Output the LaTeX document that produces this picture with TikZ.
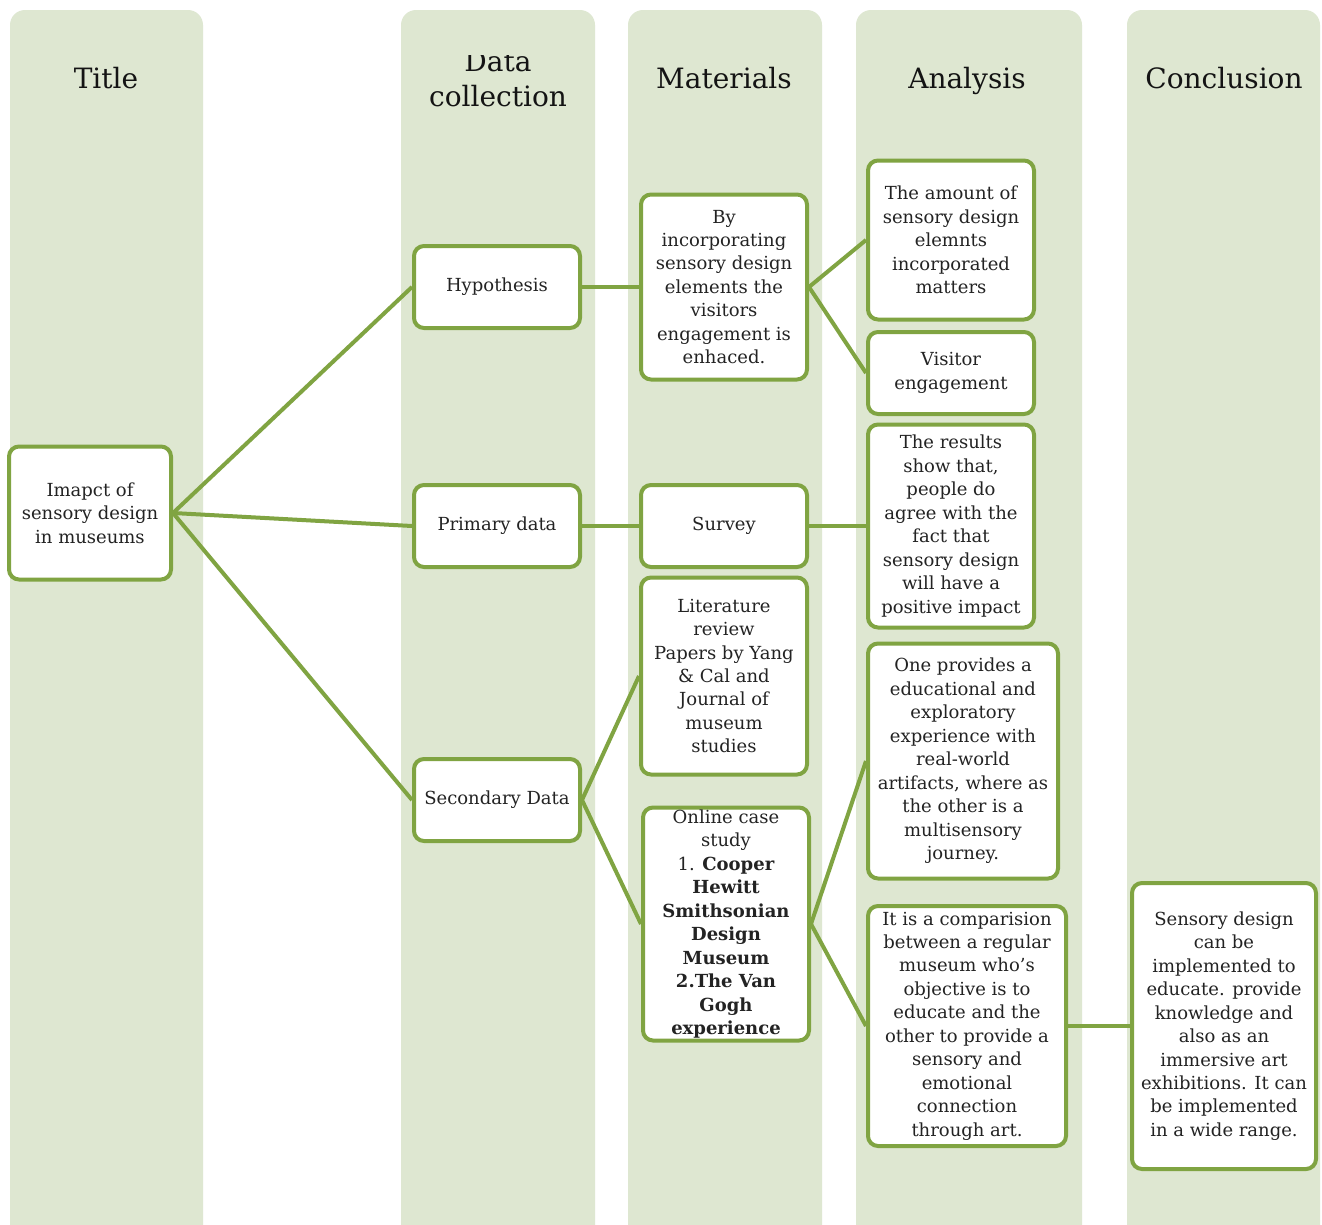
\documentclass[tikz,border=0pt]{standalone}
\usepackage{fontspec}
\setmainfont{DejaVu Serif}
\begin{document}
\begin{tikzpicture}[x=0.75pt,y=-0.75pt,
  lanecol/.style={fill=lane, draw=none, rounded corners=11.25pt},
  head/.style={font=\fontsize{21}{26}\selectfont, text=headtxt, align=center, anchor=base},
  box/.style={draw=grn, line width=3pt, fill=white, rounded corners=7.5pt, align=center, inner sep=0pt,
     font=\fontsize{13.5}{17.6}\selectfont, text=bodytxt},
  link/.style={draw=grn, line width=3pt}]
\definecolor{lane}{RGB}{222,231,209}
\definecolor{grn}{RGB}{128,164,66}
\definecolor{headtxt}{RGB}{20,20,20}
\definecolor{bodytxt}{RGB}{35,35,35}
\path[use as bounding box, clip] (0,0) rectangle (1322,1225);
\fill[white] (0,0) rectangle (1322,1225);
% lanes
\path[lanecol] (10,10) rectangle (203,1260);
\path[lanecol] (401,10) rectangle (595,1260);
\path[lanecol] (628,10) rectangle (822,1260);
\path[lanecol] (856,10) rectangle (1082,1260);
\path[lanecol] (1127,10) rectangle (1320,1260);
% headers
\node[head] (hTitle) at (106,88) {Title};
\begin{scope}
\clip (401,55) rectangle (595,140);
\node[head] (hData) at (498,106) {Data\\collection};
\end{scope}
\node[head] (hMat) at (724,88) {Materials};
\node[head] (hAna) at (967,88) {Analysis};
\node[head] (hCon) at (1224,88) {Conclusion};
% boxes
\node[box, minimum width=121.5pt, minimum height=99.75pt] (title) at (90,513) {Imapct of\\sensory design\\in museums};
\node[box, minimum width=124.5pt, minimum height=61.5pt] (hyp) at (497,287) {Hypothesis};
\node[box, minimum width=124.5pt, minimum height=61.5pt] (prim) at (497,526) {Primary data};
\node[box, minimum width=124.5pt, minimum height=61.5pt] (sec) at (497,800) {Secondary Data};
\node[box, minimum width=124.5pt, minimum height=138.75pt] (byinc) at (724,287) {By\\incorporating\\sensory design\\elements the\\visitors\\engagement is\\enhaced.};
\node[box, minimum width=124.5pt, minimum height=61.5pt] (survey) at (724,526) {Survey};
\node[box, minimum width=124.5pt, minimum height=147.75pt] (lit) at (724,676) {Literature\\review\\Papers by Yang\\\& Cal and\\Journal of\\museum\\studies};
\node[box, minimum width=124.5pt, minimum height=174.75pt] (online) at (726,924) {Online case\\study\\1. \textbf{Cooper}\\\textbf{Hewitt}\\\textbf{Smithsonian}\\\textbf{Design}\\\textbf{Museum}\\\textbf{2.The Van}\\\textbf{Gogh}\\\textbf{experience}};
\node[box, minimum width=124.5pt, minimum height=119.25pt] (amount) at (951,240) {The amount of\\sensory design\\elemnts\\incorporated\\matters};
\node[box, minimum width=124.5pt, minimum height=61.5pt] (visitor) at (951,373) {Visitor\\engagement};
\node[box, minimum width=124.5pt, minimum height=152.25pt] (results) at (951,526) {The results\\show that,\\people do\\agree with the\\fact that\\sensory design\\will have a\\positive impact};
\node[box, minimum width=142.5pt, minimum height=176.25pt] (oneprov) at (963,761) {One provides a\\educational and\\exploratory\\experience with\\real-world\\artifacts, where as\\the other is a\\multisensory\\journey.};
\node[box, minimum width=148.5pt, minimum height=180pt] (compar) at (967,1026) {It is a comparision\\between a regular\\museum who's\\objective is to\\educate and the\\other to provide a\\sensory and\\emotional\\connection\\through art.};
\node[box, minimum width=138pt, minimum height=214.5pt] (concl) at (1224,1026) {Sensory design\\can be\\implemented to\\educate. provide\\knowledge and\\also as an\\immersive art\\exhibitions. It can\\be implemented\\in a wide range.};
% connectors
\draw[link] (title.east) -- (hyp.west);
\draw[link] (title.east) -- (prim.west);
\draw[link] (title.east) -- (sec.west);
\draw[link] (hyp.east) -- (byinc.west);
\draw[link] (prim.east) -- (survey.west);
\draw[link] (sec.east) -- (lit.west);
\draw[link] (sec.east) -- (online.west);
\draw[link] (byinc.east) -- (amount.west);
\draw[link] (byinc.east) -- (visitor.west);
\draw[link] (survey.east) -- (results.west);
\draw[link] (online.east) -- (oneprov.west);
\draw[link] (online.east) -- (compar.west);
\draw[link] (compar.east) -- (concl.west);
\end{tikzpicture}
\end{document}
